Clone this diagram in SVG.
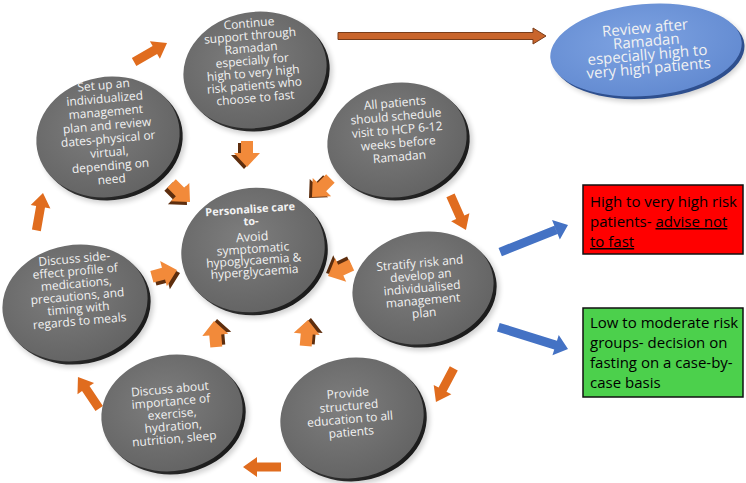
<svg xmlns="http://www.w3.org/2000/svg" width="746" height="483" viewBox="0 0 746 483">
<defs>
<radialGradient id="gDisc" cx="45%" cy="40%" r="65%">
<stop offset="0" stop-color="#7e7e7e"/>
<stop offset="1" stop-color="#626262"/>
</radialGradient>
<linearGradient id="gRim" x1="0" y1="0" x2="1" y2="1">
<stop offset="0" stop-color="#555"/>
<stop offset="1" stop-color="#111"/>
</linearGradient>
<radialGradient id="gBlue" cx="45%" cy="40%" r="65%">
<stop offset="0" stop-color="#7ea3e2"/>
<stop offset="1" stop-color="#6189d0"/>
</radialGradient>
<filter id="soft" x="-20%" y="-20%" width="140%" height="140%">
<feGaussianBlur stdDeviation="2.5"/>
</filter>
<path id="flatArrow" d="M0,-4.5 L24,-4.5 L24,-10 L38,0 L24,10 L24,4.5 L0,4.5 Z"/>
<path id="fatArrow" d="M0,-6 L12,-6 L12,-13 L26,0 L12,13 L12,6 L0,6 Z"/>
<path id="blueArrow" d="M-13,-4.5 L-13,4.5 L-73,4.5 L-73,-4.5 Z M-13,-10.5 L0,0 L-13,10.5 Z"/>
</defs>
<style>
.shadow{fill:#000;opacity:0.18;filter:url(#soft)}
.rim{fill:url(#gRim)}
.disc{fill:url(#gDisc)}
.ct{font-family:"Open Sans","Noto Sans",sans-serif;font-size:12px;fill:#f2f2f2;text-anchor:middle}
.ctb{font-weight:bold}
.bt{font-family:"Open Sans","Noto Sans",sans-serif;font-size:15px;fill:#000}
.flat{fill:#e06c1e}
.fat{fill:#f28a3a}
.fatdark{fill:#5e2e0e}
.blue{fill:#4472c4}
</style>

<g id="connectors">
<path d="M338,32.5 L533,32.5 L533,28 L546,36 L533,44 L533,39.5 L338,39.5 Z" fill="#c9652c" stroke="#7a3d1a" stroke-width="1"/>
<use href="#flatArrow" class="flat" transform="translate(134.1,62) rotate(-30)"/>
<use href="#flatArrow" class="flat" transform="translate(450.5,195.3) rotate(66)"/>
<use href="#flatArrow" class="flat" transform="translate(453.8,368.4) rotate(118)"/>
<use href="#flatArrow" class="flat" transform="translate(281,467) rotate(180)"/>
<use href="#flatArrow" class="flat" transform="translate(99.2,408.5) rotate(-124)"/>
<use href="#flatArrow" class="flat" transform="translate(36.4,230.4) rotate(-80)"/>
<g transform="translate(-3,2)"><use href="#fatArrow" class="fatdark" transform="translate(247,141) rotate(90)"/></g>
<use href="#fatArrow" class="fat" transform="translate(247,141) rotate(90)"/>
<g transform="translate(-3,3)"><use href="#fatArrow" class="fatdark" transform="translate(171.6,183.6) rotate(45)"/></g>
<use href="#fatArrow" class="fat" transform="translate(171.6,183.6) rotate(45)"/>
<g transform="translate(-3,1)"><use href="#fatArrow" class="fatdark" transform="translate(330.4,178.6) rotate(135)"/></g>
<use href="#fatArrow" class="fat" transform="translate(330.4,178.6) rotate(135)"/>
<g transform="translate(-2,-3)"><use href="#fatArrow" class="fatdark" transform="translate(351.6,265) rotate(155)"/></g>
<use href="#fatArrow" class="fat" transform="translate(351.6,265) rotate(155)"/>
<g transform="translate(3,3)"><use href="#fatArrow" class="fatdark" transform="translate(151.9,276.7) rotate(-15)"/></g>
<use href="#fatArrow" class="fat" transform="translate(151.9,276.7) rotate(-15)"/>
<g transform="translate(3,-2)"><use href="#fatArrow" class="fatdark" transform="translate(216.3,346.9) rotate(-95)"/></g>
<use href="#fatArrow" class="fat" transform="translate(216.3,346.9) rotate(-95)"/>
<g transform="translate(3,-2)"><use href="#fatArrow" class="fatdark" transform="translate(305.7,345.9) rotate(-85)"/></g>
<use href="#fatArrow" class="fat" transform="translate(305.7,345.9) rotate(-85)"/>
<use href="#blueArrow" class="blue" transform="translate(568,225) rotate(-21.8)"/>
<use href="#blueArrow" class="blue" transform="translate(568,349) rotate(17.4)"/>
</g>

<g id="n-continue">
<g transform="rotate(-10 255 70)">
<ellipse class="shadow" cx="259" cy="76" rx="73" ry="59"/>
<ellipse class="rim" cx="257.5" cy="73.5" rx="72" ry="58"/>
<ellipse class="disc" cx="255" cy="70" rx="72" ry="58"/>
</g>
<text class="ct" transform="rotate(-5 255 70)"><tspan x="253" y="27">Continue</tspan><tspan x="253" y="39.5">support through</tspan><tspan x="253" y="52">Ramadan</tspan><tspan x="253" y="64.5">especially for</tspan><tspan x="253" y="77">high to very high</tspan><tspan x="253" y="89.5">risk patients who</tspan><tspan x="253" y="102">choose to fast</tspan></text>
</g>

<g id="n-setup">
<g transform="rotate(-10 108 137)">
<ellipse class="shadow" cx="112" cy="143" rx="73" ry="61"/>
<ellipse class="rim" cx="110.5" cy="140.5" rx="72" ry="60"/>
<ellipse class="disc" cx="108" cy="137" rx="72" ry="60"/>
</g>
<text class="ct" transform="rotate(-5 108 137)"><tspan x="108" y="89">Set up an</tspan><tspan x="108" y="102.5">individualized</tspan><tspan x="108" y="116">management</tspan><tspan x="108" y="129.5">plan and review</tspan><tspan x="108" y="143">dates-physical or</tspan><tspan x="108" y="156.5">virtual,</tspan><tspan x="108" y="170">depending on</tspan><tspan x="108" y="183.5">need</tspan></text>
</g>

<g id="n-allpatients">
<g transform="rotate(-10 397 140)">
<ellipse class="shadow" cx="401" cy="146" rx="71" ry="58"/>
<ellipse class="rim" cx="399.5" cy="143.5" rx="70" ry="57"/>
<ellipse class="disc" cx="397" cy="140" rx="70" ry="57"/>
</g>
<text class="ct" transform="rotate(-5 397 140)"><tspan x="398" y="107">All patients</tspan><tspan x="398" y="120.5">should schedule</tspan><tspan x="398" y="134">visit to HCP 6-12</tspan><tspan x="398" y="147.5">weeks before</tspan><tspan x="398" y="161">Ramadan</tspan></text>
</g>

<g id="n-centre">
<g transform="rotate(-10 253 250)">
<ellipse class="shadow" cx="257" cy="256" rx="73" ry="63"/>
<ellipse class="rim" cx="255.5" cy="253.5" rx="72" ry="62"/>
<ellipse class="disc" cx="253" cy="250" rx="72" ry="62"/>
</g>
<text class="ct" transform="rotate(-4 253 250)"><tspan class="ctb" x="253" y="213" font-size="11px">Personalise care</tspan><tspan class="ctb" x="253" y="225" font-size="11px">to-</tspan><tspan x="253" y="241" font-size="12.5px">Avoid</tspan><tspan x="253" y="253">symptomatic</tspan><tspan x="253" y="264.5">hypoglycaemia &amp;</tspan><tspan x="253" y="276">hyperglycaemia</tspan></text>
</g>

<g id="n-sideeffect">
<g transform="rotate(-10 75 303)">
<ellipse class="shadow" cx="79" cy="309" rx="74" ry="59"/>
<ellipse class="rim" cx="77.5" cy="306.5" rx="73" ry="58"/>
<ellipse class="disc" cx="75" cy="303" rx="73" ry="58"/>
</g>
<text class="ct" transform="rotate(-5 75 303)"><tspan x="78" y="263">Discuss side-</tspan><tspan x="78" y="275.5">effect profile of</tspan><tspan x="78" y="288">medications,</tspan><tspan x="78" y="300.5">precautions, and</tspan><tspan x="78" y="313">timing with</tspan><tspan x="78" y="325.5">regards to meals</tspan></text>
</g>

<g id="n-stratify">
<g transform="rotate(-10 423 288)">
<ellipse class="shadow" cx="427" cy="294" rx="72" ry="57"/>
<ellipse class="rim" cx="425.5" cy="291.5" rx="71" ry="56"/>
<ellipse class="disc" cx="423" cy="288" rx="71" ry="56"/>
</g>
<text class="ct" transform="rotate(-5 423 288)"><tspan x="422" y="267">Stratify risk and</tspan><tspan x="422" y="279.5">develop an</tspan><tspan x="422" y="292">individualised</tspan><tspan x="422" y="304.5">management</tspan><tspan x="422" y="317">plan</tspan></text>
</g>

<g id="n-exercise">
<g transform="rotate(-10 172 413)">
<ellipse class="shadow" cx="176" cy="419" rx="72" ry="59"/>
<ellipse class="rim" cx="174.5" cy="416.5" rx="71" ry="58"/>
<ellipse class="disc" cx="172" cy="413" rx="71" ry="58"/>
</g>
<text class="ct" transform="rotate(-5 172 413)"><tspan x="172" y="393">Discuss about</tspan><tspan x="172" y="405.5">importance of</tspan><tspan x="172" y="418">exercise,</tspan><tspan x="172" y="430.5">hydration,</tspan><tspan x="172" y="443">nutrition, sleep</tspan></text>
</g>

<g id="n-education">
<g transform="rotate(-10 352 418)">
<ellipse class="shadow" cx="356" cy="424" rx="73" ry="61"/>
<ellipse class="rim" cx="354.5" cy="421.5" rx="72" ry="60"/>
<ellipse class="disc" cx="352" cy="418" rx="72" ry="60"/>
</g>
<text class="ct" transform="rotate(-5 352 418)"><tspan x="350" y="397">Provide</tspan><tspan x="350" y="410">structured</tspan><tspan x="350" y="423">education to all</tspan><tspan x="350" y="436">patients</tspan></text>
</g>

<g id="n-review">
<g transform="rotate(-5 646 50)">
<ellipse class="shadow" cx="650" cy="55" rx="96" ry="47"/>
<ellipse cx="648.5" cy="53" rx="96" ry="46" fill="#2e4f8e"/>
<ellipse cx="646" cy="50" rx="96" ry="46" fill="url(#gBlue)"/>
</g>
<text class="ct" style="font-size:15px" transform="rotate(-5 646 50)"><tspan x="647" y="33">Review after</tspan><tspan x="647" y="46.5">Ramadan</tspan><tspan x="647" y="60">especially high to</tspan><tspan x="647" y="73.5">very high patients</tspan></text>
</g>

<g id="n-highrisk">
<rect x="583" y="185" width="160" height="69" fill="#ff0000" stroke="#111" stroke-width="1.5"/>
<text class="bt"><tspan x="590" y="207">High to very high risk</tspan><tspan x="590" y="227">patients- </tspan><tspan text-decoration="underline">advise not</tspan><tspan x="590" y="247" text-decoration="underline">to fast</tspan></text>
</g>

<g id="n-lowrisk">
<rect x="583" y="308" width="160" height="89" fill="#4cd04c" stroke="#111" stroke-width="1.5"/>
<text class="bt"><tspan x="590" y="328">Low to moderate risk</tspan><tspan x="590" y="348">groups- decision on</tspan><tspan x="590" y="368">fasting on a case-by-</tspan><tspan x="590" y="388">case basis</tspan></text>
</g>
</svg>
